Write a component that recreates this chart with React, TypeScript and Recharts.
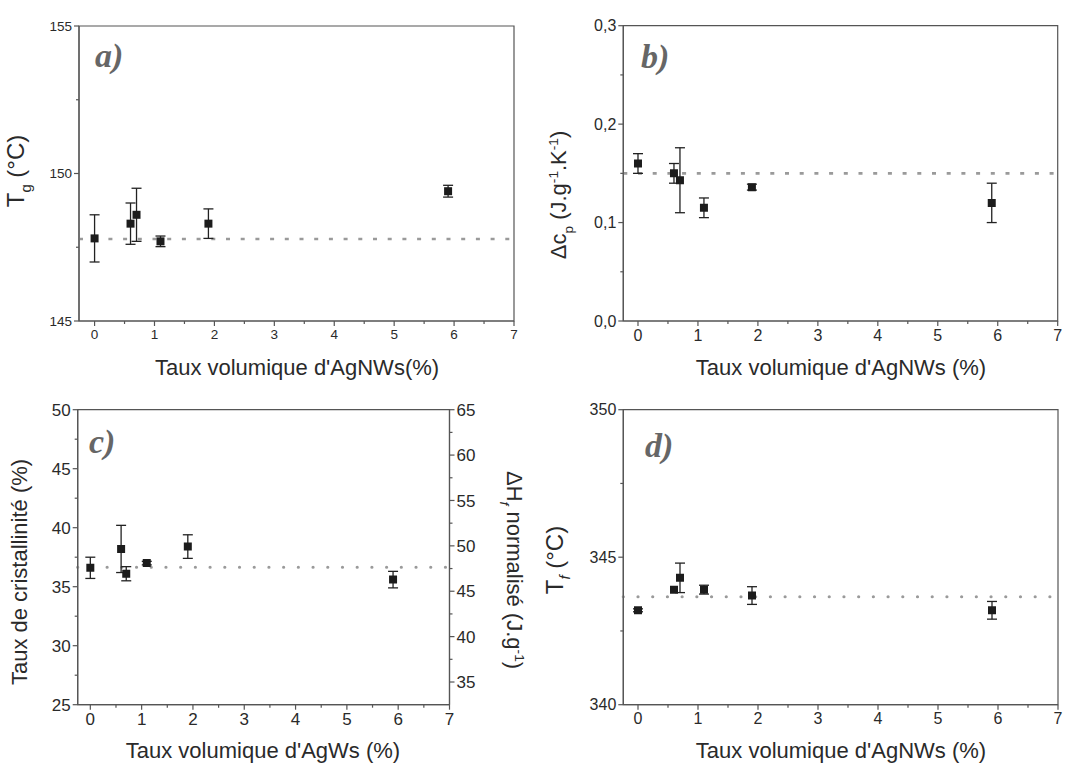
import React from 'react'
import { ScatterChart, Scatter, XAxis, YAxis, ErrorBar, ReferenceLine, ReferenceArea } from 'recharts'

// volume fraction of silver nanowires (%)
const X_VOL = [0, 0.6, 0.7, 1.1, 1.9, 5.9]

// a) glass transition
const TG = [147.8, 148.3, 148.6, 147.7, 148.3, 149.4]
const TG_ERR = [0.8, 0.7, 0.9, 0.18, 0.5, 0.2]
const TG_MEAN = 147.78

// b) heat capacity step
const DCP = [0.16, 0.15, 0.143, 0.115, 0.136, 0.12]
const DCP_ERR = [0.01, 0.01, 0.033, 0.01, 0.003, 0.02]
const DCP_MEAN = 0.15

// c) crystallinity
const XC = [36.6, 38.2, 36.1, 37.0, 38.4, 35.6]
const XC_ERR = [0.9, 2.0, 0.6, 0.15, 1.0, 0.7]
const XC_MEAN = 36.65

// d) melting temperature
const TF = [343.2, 343.9, 344.3, 343.9, 343.7, 343.2]
const TF_ERR = [0.05, 0, 0.5, 0.15, 0.3, 0.3]
const TF_MEAN = 343.66

const X_TICKS = [0, 0.5, 1, 1.5, 2, 2.5, 3, 3.5, 4, 4.5, 5, 5.5, 6, 6.5, 7]
const TG_TICKS = [145, 147.5, 150, 152.5, 155]
const DCP_TICKS = [0, 0.05, 0.1, 0.15, 0.2, 0.25, 0.3]
const XC_TICKS = [25, 27.5, 30, 32.5, 35, 37.5, 40, 42.5, 45, 47.5, 50]
const DH_TICKS = [35, 37.5, 40, 42.5, 45, 47.5, 50, 52.5, 55, 57.5, 60, 62.5, 65]
const TF_TICKS = [340, 342.5, 345, 347.5, 350]

const AXIS = '#555'
const TXT = '#2a2a2a'
const FONT = '"Liberation Sans", Arial, sans-serif'
const W = 541
const H = 383

const rows = (ys: number[], errs: number[]) => X_VOL.map((x, i) => ({ x, y: ys[i], err: errs[i] }))

const isMajor = (v: number, step: number) => Math.abs(v / step - Math.round(v / step)) < 1e-6

function xTick(fontSize: number) {
  return (p: any) => {
    const v = p.payload.value
    const major = isMajor(v, 1)
    return (
      <g>
        <line x1={p.x} x2={p.x} y1={p.y} y2={p.y + (major ? 5 : 3)} stroke={AXIS} strokeWidth={1.2} />
        {major && (
          <text x={p.x} y={p.y + 8} dy="0.72em" textAnchor="middle" fontSize={fontSize} fill={TXT} fontFamily={FONT}>{v}</text>
        )}
      </g>
    )
  }
}

function yTick(fontSize: number, step: number, fmt: (v: number) => string, side: 'left' | 'right' = 'left') {
  return (p: any) => {
    const v = p.payload.value
    const major = isMajor(v, step)
    const s = side === 'left' ? -1 : 1
    return (
      <g>
        <line x1={p.x} x2={p.x + s * (major ? 5 : 3)} y1={p.y} y2={p.y} stroke={AXIS} strokeWidth={1.2} />
        {major && (
          <text x={p.x + s * 7} y={p.y} dy="0.36em" textAnchor={side === 'left' ? 'end' : 'start'} fontSize={fontSize} fill={TXT} fontFamily={FONT}>{fmt(v)}</text>
        )}
      </g>
    )
  }
}

type Part = { t: string; sub?: boolean; sup?: boolean; it?: boolean }

function RotTitle({ cx, cy, angle, size, parts }: { cx: number; cy: number; angle: number; size: number; parts: Part[] }) {
  const out: React.ReactNode[] = []
  let shift = 0
  parts.forEach((pt, i) => {
    const target = pt.sub ? 0.3 * size : pt.sup ? -0.38 * size : 0
    out.push(
      <tspan key={i} dy={target - shift} fontSize={pt.sub || pt.sup ? size * 0.62 : size} fontStyle={pt.it ? 'italic' : 'normal'}>{pt.t}</tspan>
    )
    shift = target
  })
  return (
    <text transform={`translate(${cx},${cy}) rotate(${angle})`} textAnchor="middle" dy="0.35em" fill={TXT} fontFamily={FONT}>
      {out}
    </text>
  )
}

function PanelTag({ x, y, t }: { x: number; y: number; t: string }) {
  return (
    <text x={x} y={y} fontSize={34} fontWeight="bold" fontStyle="italic" fill="#666" fontFamily='"Liberation Serif", "Times New Roman", serif'>{t}</text>
  )
}

function XTitle({ cx, y, size, t }: { cx: number; y: number; size: number; t: string }) {
  return <text x={cx} y={y} textAnchor="middle" fontSize={size} fill={TXT} fontFamily={FONT}>{t}</text>
}

interface PanelProps {
  data: { x: number; y: number; err: number }[]
  mean: number
  yDomain: [number, number]
  yTicks: number[]
  yStep: number
  yFmt: (v: number) => string
  xMin: number
  margin: { top: number; right: number; left: number; bottom: number }
  yWidth: number
  xHeight: number
  tickFont: number
  dots: boolean
  title: React.ReactNode
  right?: React.ReactNode
}

function Panel(props: PanelProps) {
  const { data, mean, yDomain, yTicks, yStep, yFmt, xMin, margin, yWidth, xHeight, tickFont, dots, title } = props
  return (
    <ScatterChart width={W} height={H} margin={margin}>
      <XAxis type="number" dataKey="x" domain={[xMin, 7]} ticks={X_TICKS} interval={0} allowDataOverflow
        height={xHeight} tickSize={0} tickMargin={0} tickLine={false} stroke={AXIS} strokeWidth={1.2} tick={xTick(tickFont)} />
      <YAxis yAxisId="left" type="number" dataKey="y" domain={yDomain} ticks={yTicks} interval={0} allowDataOverflow
        width={yWidth} tickSize={0} tickMargin={0} tickLine={false} stroke={AXIS} strokeWidth={1.2}
        tick={yTick(tickFont, yStep, yFmt)} label={{ content: () => title }} />
      {props.right}
      <ReferenceArea yAxisId="left" x1={xMin} x2={7} y1={yDomain[0]} y2={yDomain[1]} fill="none" stroke={AXIS} strokeWidth={1.2} ifOverflow="visible" />
      <ReferenceLine yAxisId="left" y={mean} stroke="#9a9a9a" strokeWidth={dots ? 3.2 : 2.6}
        strokeDasharray={dots ? '0.01 14.7' : '4 10.7'} strokeLinecap={dots ? 'round' : 'butt'} />
      <Scatter yAxisId="left" data={data} shape="square" fill="#1c1c1c" isAnimationActive={false}>
        <ErrorBar dataKey="err" direction="y" width={5} stroke="#222" strokeWidth={1.3} />
      </Scatter>
    </ScatterChart>
  )
}

const cell = (left: number, top: number): React.CSSProperties => ({ position: 'absolute', left, top, width: W, height: H })

export default function App() {
  return (
    <div style={{ position: 'relative', width: 1082, height: 766, background: '#fff', overflow: 'hidden' }}>
      <style>{'body{margin:0;background:#fff}'}</style>

      <div style={cell(0, 0)}>
        <Panel data={rows(TG, TG_ERR)} mean={TG_MEAN} yDomain={[145, 155]} yTicks={TG_TICKS} yStep={5} yFmt={(v) => String(v)}
          xMin={-0.26} margin={{ top: 26, right: 27, left: 0, bottom: 0 }} yWidth={79} xHeight={62} tickFont={13.5} dots={false}
          title={
            <g>
              <RotTitle cx={24} cy={171} angle={-90} size={24} parts={[{ t: 'T' }, { t: 'g', sub: true }, { t: ' (°C)' }]} />
              <XTitle cx={297} y={375} size={22} t="Taux volumique d'AgNWs(%)" />
              <PanelTag x={95} y={67} t="a)" />
            </g>
          } />
      </div>

      <div style={cell(541, 0)}>
        <Panel data={rows(DCP, DCP_ERR)} mean={DCP_MEAN} yDomain={[0, 0.3]} yTicks={DCP_TICKS} yStep={0.1}
          yFmt={(v) => v.toFixed(1).replace('.', ',')}
          xMin={-0.245} margin={{ top: 25.7, right: 24.3, left: 0, bottom: 0 }} yWidth={82.3} xHeight={62} tickFont={16} dots={false}
          title={
            <g>
              <RotTitle cx={25} cy={195} angle={-90} size={22}
                parts={[{ t: 'Δc' }, { t: 'p', sub: true }, { t: ' (J.g' }, { t: '-1', sup: true }, { t: '.K' }, { t: '-1', sup: true }, { t: ')' }]} />
              <XTitle cx={300} y={375} size={22} t="Taux volumique d'AgNWs (%)" />
              <PanelTag x={100} y={68} t="b)" />
            </g>
          } />
      </div>

      <div style={cell(0, 383)}>
        <Panel data={rows(XC, XC_ERR)} mean={XC_MEAN} yDomain={[25, 50]} yTicks={XC_TICKS} yStep={5} yFmt={(v) => String(v)}
          xMin={-0.246} margin={{ top: 26.7, right: 0, left: 0, bottom: 0 }} yWidth={77.7} xHeight={61.3} tickFont={17} dots
          right={
            <YAxis yAxisId="right" orientation="right" type="number" domain={[32.5, 65]} ticks={DH_TICKS} interval={0} allowDataOverflow
              width={91.5} tickSize={0} tickMargin={0} tickLine={false} stroke={AXIS} strokeWidth={1.2}
              tick={yTick(17, 5, (v) => String(v), 'right')}
              label={{ content: () => (
                <RotTitle cx={507} cy={187} angle={90} size={22}
                  parts={[{ t: 'ΔH' }, { t: 'f', sub: true, it: true }, { t: ' normalisé (J.g' }, { t: '-1', sup: true }, { t: ')' }]} />
              ) }} />
          }
          title={
            <g>
              <RotTitle cx={27} cy={189} angle={-90} size={22} parts={[{ t: 'Taux de cristallinité (%)' }]} />
              <XTitle cx={263} y={375} size={22} t="Taux volumique d'AgWs (%)" />
              <PanelTag x={89} y={70} t="c)" />
            </g>
          } />
      </div>

      <div style={cell(541, 383)}>
        <Panel data={rows(TF, TF_ERR)} mean={TF_MEAN} yDomain={[340, 350]} yTicks={TF_TICKS} yStep={5} yFmt={(v) => String(v)}
          xMin={-0.245} margin={{ top: 26.7, right: 24, left: 0, bottom: 0 }} yWidth={82.3} xHeight={61.3} tickFont={16} dots
          title={
            <g>
              <RotTitle cx={22} cy={177} angle={-90} size={24} parts={[{ t: 'T' }, { t: 'f', sub: true, it: true }, { t: ' (°C)' }]} />
              <XTitle cx={300} y={375} size={22} t="Taux volumique d'AgNWs (%)" />
              <PanelTag x={104} y={74} t="d)" />
            </g>
          } />
      </div>
    </div>
  )
}
